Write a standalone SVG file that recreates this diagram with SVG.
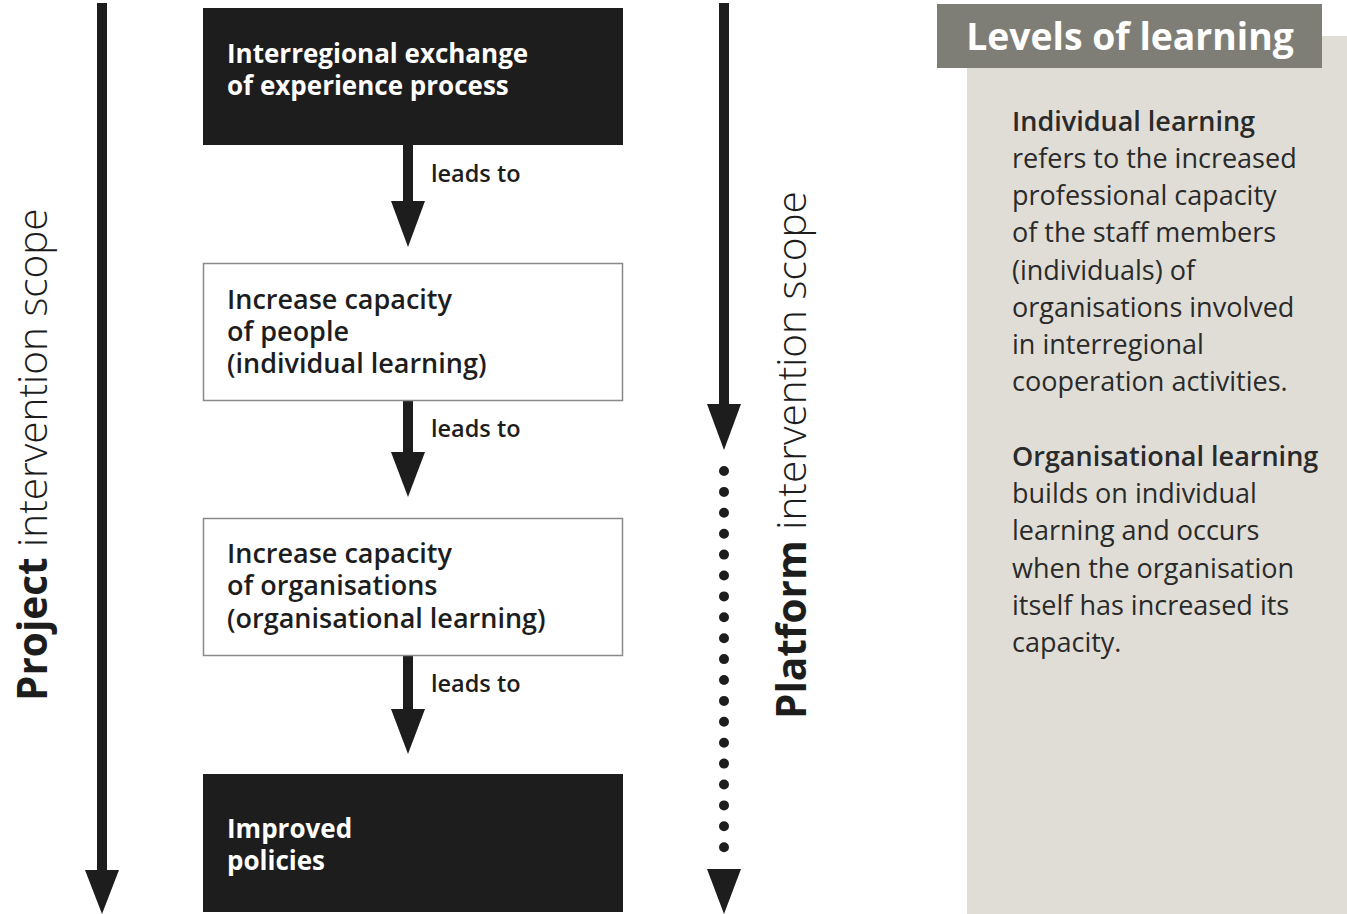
<svg xmlns="http://www.w3.org/2000/svg" width="1347" height="914" viewBox="0 0 1347 914">
<style>
.t{font-family:"Open Sans","Liberation Sans",sans-serif;}
.box{font-size:27px;font-weight:600;fill:#1e1d1d}
.boxw{font-size:26px;font-weight:700;fill:#ffffff}
.lead{font-size:23.5px;font-weight:600;fill:#1e1d1d}
.side{font-size:40.5px;fill:#1e1d1d}
.panel{font-size:27px;fill:#2a2a2a}
.dark{fill:#1e1d1d}
.light{fill:#ffffff;stroke:#8a8a8a;stroke-width:1.5}
</style>
<rect width="1347" height="914" fill="#ffffff"/>

<g id="connectors">
  <line x1="102" y1="3" x2="102" y2="870" stroke="#1e1d1d" stroke-width="10"/>
  <path d="M85,870 L119,870 L102,914 Z" fill="#1e1d1d"/>
  <line x1="724" y1="3" x2="724" y2="405" stroke="#1e1d1d" stroke-width="10"/>
  <path d="M707,404 L741,404 L724,450 Z" fill="#1e1d1d"/>
  <line x1="724" y1="471" x2="724" y2="868" stroke="#1e1d1d" stroke-width="10" stroke-linecap="round" stroke-dasharray="0 20.9"/>
  <path d="M707,869 L741,869 L724,914 Z" fill="#1e1d1d"/>

  <line x1="408" y1="145" x2="408" y2="202" stroke="#1e1d1d" stroke-width="10"/>
  <path d="M391,201 L425,201 L408,247 Z" fill="#1e1d1d"/>
  <line x1="408" y1="401" x2="408" y2="453" stroke="#1e1d1d" stroke-width="10"/>
  <path d="M391,452 L425,452 L408,497 Z" fill="#1e1d1d"/>
  <line x1="408" y1="656" x2="408" y2="710" stroke="#1e1d1d" stroke-width="10"/>
  <path d="M391,709 L425,709 L408,754 Z" fill="#1e1d1d"/>
  <text class="t lead" x="431" y="182">leads to</text>
  <text class="t lead" x="431" y="437">leads to</text>
  <text class="t lead" x="431" y="692">leads to</text>
</g>

<g id="node-exchange">
  <rect class="dark" x="203" y="8" width="420" height="137"/>
  <text class="t boxw" x="227" y="63">Interregional exchange</text>
  <text class="t boxw" x="227" y="95">of experience process</text>
</g>
<g id="node-people">
  <rect class="light" x="203.5" y="263.5" width="419" height="137"/>
  <text class="t box" x="227" y="309">Increase capacity</text>
  <text class="t box" x="227" y="341">of people</text>
  <text class="t box" x="227" y="373">(individual learning)</text>
</g>
<g id="node-organisations">
  <rect class="light" x="203.5" y="518.5" width="419" height="137"/>
  <text class="t box" x="227" y="563">Increase capacity</text>
  <text class="t box" x="227" y="595">of organisations</text>
  <text class="t box" x="227" y="628">(organisational learning)</text>
</g>
<g id="node-policies">
  <rect class="dark" x="203" y="774" width="420" height="138"/>
  <text class="t boxw" x="227" y="838">Improved</text>
  <text class="t boxw" x="227" y="870">policies</text>
</g>

<g id="label-project">
  <text class="t side" transform="translate(47,701) rotate(-90)"><tspan font-weight="700">Project</tspan><tspan font-weight="300"> intervention scope</tspan></text>
</g>
<g id="label-platform">
  <text class="t side" transform="translate(806,719) rotate(-90)"><tspan font-weight="700">Platform</tspan><tspan font-weight="300"> intervention scope</tspan></text>
</g>

<g id="panel">
  <rect x="967" y="36" width="380" height="878" fill="#dfddd6"/>
  <rect x="937" y="4" width="385" height="64" fill="#7f7e76"/>
  <text class="t" x="1130" y="50" text-anchor="middle" font-size="37.3" font-weight="700" fill="#ffffff">Levels of learning</text>
  <text class="t panel" x="1012">
    <tspan x="1012" y="131" font-weight="600">Individual learning</tspan>
    <tspan x="1012" y="168">refers to the increased</tspan>
    <tspan x="1012" y="205">professional capacity</tspan>
    <tspan x="1012" y="242">of the staff members</tspan>
    <tspan x="1012" y="280">(individuals) of</tspan>
    <tspan x="1012" y="317">organisations involved</tspan>
    <tspan x="1012" y="354">in interregional</tspan>
    <tspan x="1012" y="391">cooperation activities.</tspan>
    <tspan x="1012" y="466" font-weight="600">Organisational learning</tspan>
    <tspan x="1012" y="503">builds on individual</tspan>
    <tspan x="1012" y="540">learning and occurs</tspan>
    <tspan x="1012" y="578">when the organisation</tspan>
    <tspan x="1012" y="615">itself has increased its</tspan>
    <tspan x="1012" y="652">capacity.</tspan>
  </text>
</g>
</svg>
